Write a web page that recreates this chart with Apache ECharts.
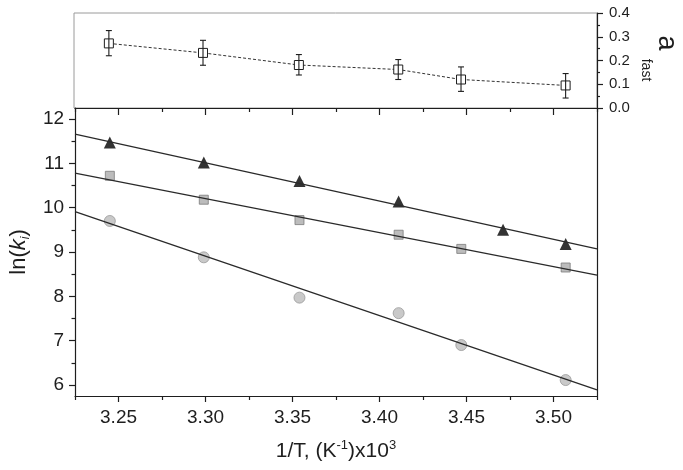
<!DOCTYPE html>
<html><head><meta charset="utf-8">
<script src="https://cdn.jsdelivr.net/npm/echarts@6/dist/echarts.min.js"></script>
<style>html,body{margin:0;padding:0;background:#fff}#c{width:683px;height:470px}</style>
</head><body><div id="c"></div>
<script>
// ---- data ----
const xPts = [3.245, 3.299, 3.354, 3.411, 3.447, 3.507];
const xTri = [3.245, 3.299, 3.354, 3.411, 3.471, 3.507];
const triY = [11.47, 11.02, 10.60, 10.14, 9.50, 9.18];
const sqY  = [10.72, 10.18, 9.72, 9.39, 9.07, 8.65];
const cirY = [9.70, 8.88, 7.97, 7.62, 6.90, 6.11];
const fitX = [3.225, 3.525];
const triFit = [11.66, 9.07];
const sqFit  = [10.78, 8.48];
const cirFit = [9.91, 5.89];
const afast   = [0.272, 0.232, 0.181, 0.162, 0.120, 0.095];
const afastLo = [0.220, 0.180, 0.139, 0.120, 0.070, 0.042];
const afastHi = [0.326, 0.285, 0.225, 0.204, 0.173, 0.145];
const xMajorTicks = [3.25, 3.30, 3.35, 3.40, 3.45, 3.50];
const xMinorTicks = [3.225, 3.275, 3.325, 3.375, 3.425, 3.475, 3.525];
const yMajorTicks = [6, 7, 8, 9, 10, 11, 12];
const yMinorTicks = [6.5, 7.5, 8.5, 9.5, 10.5, 11.5];

const FONT = '"Liberation Sans", Arial, sans-serif';
const INK = '#1e1e1e';
const zip = (a, b) => a.map((v, i) => [v, b[i]]);

const chart = echarts.init(document.getElementById('c'), null, {renderer: 'canvas'});
const lineAx = {show: true, onZero: false, lineStyle: {color: INK, width: 1.2}};
const noLine = {show: false, onZero: false};
const xRange = {type: 'value', min: 3.225, max: 3.525, splitLine: {show: false}};
const yRange = {type: 'value', min: 5.75, max: 12.25, splitLine: {show: false}};

chart.setOption({
  animation: false,
  backgroundColor: '#fff',
  grid: [
    {left: 74, top: 13, width: 523, height: 95, show: true, borderColor: '#9a9a9a', borderWidth: 1, backgroundColor: 'transparent'},
    {left: 74, top: 108, width: 523, height: 288}
  ],
  xAxis: [
    Object.assign({gridIndex: 0, show: false}, xRange),
    Object.assign({gridIndex: 1, position: 'bottom', axisLine: lineAx,
      axisTick: {show: true, length: 6, customValues: xMajorTicks, lineStyle: {color: INK, width: 1.2}},
      axisLabel: {show: true, customValues: xMajorTicks, formatter: v => v.toFixed(2), fontSize: 19, fontFamily: FONT, color: INK, margin: 12},
      name: '{n|1/T, (K}{s|-1}{n|)x10}{s|3}', nameLocation: 'middle', nameGap: 43,
      nameTextStyle: {rich: {
        n: {fontSize: 21, fontFamily: FONT, color: INK, lineHeight: 24},
        s: {fontSize: 13, fontFamily: FONT, color: INK, lineHeight: 9, verticalAlign: 'top'}
      }}
    }, xRange),
    Object.assign({gridIndex: 1, position: 'bottom', axisLine: noLine,
      axisTick: {show: true, length: 4, customValues: xMinorTicks, lineStyle: {color: INK, width: 1.2}},
      axisLabel: {show: false}}, xRange),
    Object.assign({gridIndex: 1, position: 'top', axisLine: lineAx,
      axisTick: {show: true, inside: true, length: 7, customValues: xMajorTicks, lineStyle: {color: INK, width: 1.2}},
      axisLabel: {show: false}}, xRange),
    Object.assign({gridIndex: 1, position: 'top', axisLine: noLine,
      axisTick: {show: true, inside: true, length: 4, customValues: xMinorTicks, lineStyle: {color: INK, width: 1.2}},
      axisLabel: {show: false}}, xRange)
  ],
  yAxis: [
    {gridIndex: 0, type: 'value', position: 'right', min: 0, max: 0.4, interval: 0.1,
      axisLine: lineAx, splitLine: {show: false},
      axisTick: {show: true, length: 6, lineStyle: {color: INK, width: 1.2}},
      minorTick: {show: true, splitNumber: 2, length: 3, lineStyle: {color: INK, width: 1.2}},
      axisLabel: {fontSize: 15, fontFamily: FONT, color: INK, margin: 12, formatter: v => v.toFixed(1)}},
    Object.assign({gridIndex: 1, position: 'left', axisLine: lineAx,
      axisTick: {show: true, length: 6, customValues: yMajorTicks, lineStyle: {color: INK, width: 1.2}},
      axisLabel: {show: true, customValues: yMajorTicks, fontSize: 19, fontFamily: FONT, color: INK, margin: 11},
      name: '{n|ln(}{k|k}{s|i}{n|)}', nameLocation: 'middle', nameGap: 39, nameRotate: 90,
      nameTextStyle: {rich: {
        n: {fontSize: 22, fontFamily: FONT, color: INK, lineHeight: 26},
        k: {fontSize: 22, fontFamily: FONT, color: INK, lineHeight: 26, fontStyle: 'italic'},
        s: {fontSize: 12, fontFamily: FONT, color: INK, lineHeight: 9, verticalAlign: 'bottom', fontStyle: 'italic'}
      }}
    }, yRange),
    Object.assign({gridIndex: 1, position: 'left', axisLine: noLine,
      axisTick: {show: true, length: 3.5, customValues: yMinorTicks, lineStyle: {color: INK, width: 1.2}},
      axisLabel: {show: false}}, yRange),
    Object.assign({gridIndex: 1, position: 'right', axisLine: lineAx,
      axisTick: {show: false}, axisLabel: {show: false}}, yRange)
  ],
  graphic: [
    {type: 'text', x: 666, y: 43, rotation: -Math.PI / 2, z: 10,
      style: {text: 'a', fontSize: 27, fontFamily: FONT, fill: INK, align: 'center', verticalAlign: 'middle', textAlign: 'center', textVerticalAlign: 'middle'}},
    {type: 'text', x: 646, y: 70, rotation: -Math.PI / 2, z: 10,
      style: {text: 'fast', fontSize: 14, fontFamily: FONT, fill: INK, align: 'center', verticalAlign: 'middle', textAlign: 'center', textVerticalAlign: 'middle'}}
  ],
  series: [
    {type: 'line', name: 'afast', xAxisIndex: 0, yAxisIndex: 0, data: zip(xPts, afast),
      symbol: 'rect', symbolSize: 9, showSymbol: true, z: 2,
      itemStyle: {color: '#fff', borderColor: INK, borderWidth: 1},
      lineStyle: {color: '#333', width: 1, type: [3, 2]}},
    {type: 'custom', name: 'afastErr', xAxisIndex: 0, yAxisIndex: 0, z: 3,
      data: xPts.map((x, i) => [x, afastLo[i], afastHi[i]]),
      renderItem: (params, api) => {
        const lo = api.coord([api.value(0), api.value(1)]);
        const hi = api.coord([api.value(0), api.value(2)]);
        const w = 3;
        const st = {stroke: INK, lineWidth: 1.1};
        return {type: 'group', children: [
          {type: 'line', shape: {x1: lo[0], y1: lo[1], x2: hi[0], y2: hi[1]}, style: st},
          {type: 'line', shape: {x1: lo[0] - w, y1: lo[1], x2: lo[0] + w, y2: lo[1]}, style: st},
          {type: 'line', shape: {x1: hi[0] - w, y1: hi[1], x2: hi[0] + w, y2: hi[1]}, style: st}
        ]};
      }},
    {type: 'scatter', name: 'tri', xAxisIndex: 1, yAxisIndex: 1, data: zip(xTri, triY),
      symbol: 'triangle', symbolSize: 12, z: 2, itemStyle: {color: '#000'}},
    {type: 'scatter', name: 'sq', xAxisIndex: 1, yAxisIndex: 1, data: zip(xPts, sqY),
      symbol: 'rect', symbolSize: 9, z: 2, itemStyle: {color: '#ababab', borderColor: '#7c7c7c', borderWidth: 1}},
    {type: 'scatter', name: 'cir', xAxisIndex: 1, yAxisIndex: 1, data: zip(xPts, cirY),
      symbol: 'circle', symbolSize: 11, z: 2, itemStyle: {color: '#bcbcbc', borderColor: '#9a9a9a', borderWidth: 1}},
    {type: 'line', name: 'triFit', xAxisIndex: 1, yAxisIndex: 1, data: zip(fitX, triFit),
      symbol: 'none', z: 4, lineStyle: {color: '#2a2a2a', width: 1.3}},
    {type: 'line', name: 'sqFit', xAxisIndex: 1, yAxisIndex: 1, data: zip(fitX, sqFit),
      symbol: 'none', z: 4, lineStyle: {color: '#2a2a2a', width: 1.3}},
    {type: 'line', name: 'cirFit', xAxisIndex: 1, yAxisIndex: 1, data: zip(fitX, cirFit),
      symbol: 'none', z: 4, lineStyle: {color: '#2a2a2a', width: 1.3}}
  ]
});
</script>
</body></html>
